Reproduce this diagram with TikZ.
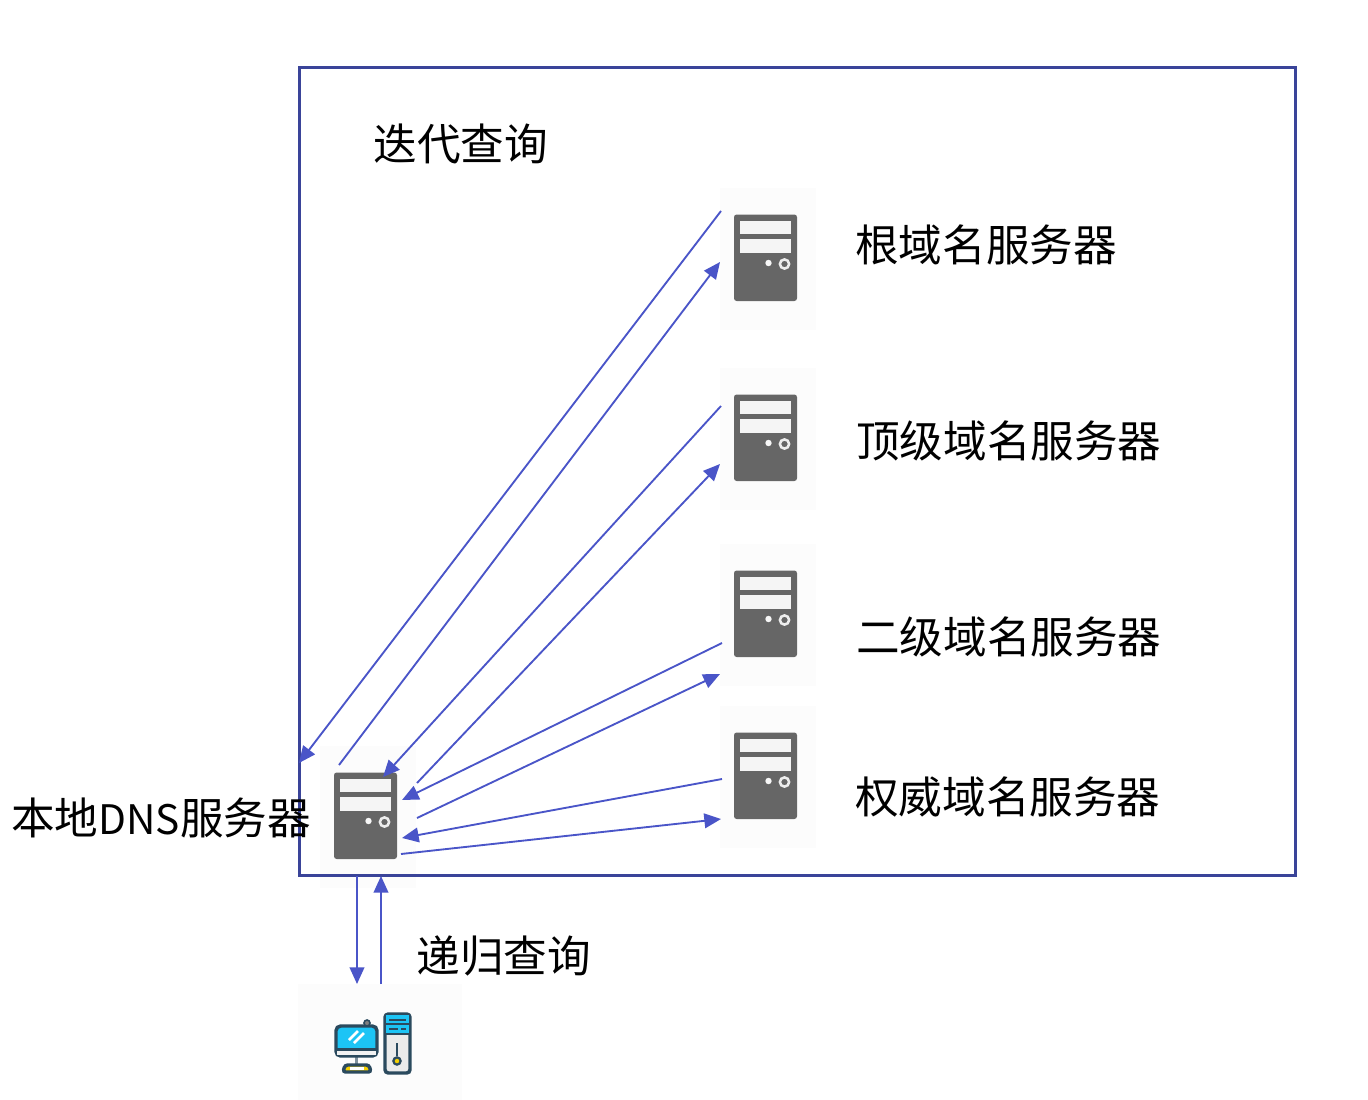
\documentclass[tikz,border=0pt]{standalone}
\usepackage{fontspec}
\newfontfamily\cjk{Noto Sans CJK SC}
\usetikzlibrary{arrows.meta}
\definecolor{lnk}{HTML}{4A55C8}
\definecolor{frm}{HTML}{3A4499}
\definecolor{srv}{HTML}{666666}
\definecolor{pane}{HTML}{FCFCFC}
\definecolor{pcd}{HTML}{2B4A5E}
\definecolor{pcb}{HTML}{1CC4F5}
\definecolor{pcy}{HTML}{F5D000}
\tikzset{
  x=0.75pt,y=-0.75pt,
  link/.style={draw=lnk,line width=1.4pt,-{Triangle[length=12.5pt,width=11pt]}},
  label/.style={anchor=west,inner sep=0pt,font=\cjk\fontsize{32.7}{33}\selectfont,text=black},
  pane/.style={fill=pane,draw=none},
}
\newcommand{\serverat}[3]{% name, left, top of pane
  \fill[pane] (#2,#3) rectangle ++(96,142);
  \coordinate (#1) at (#2,#3);
  \begin{scope}[shift={(#2,#3)}]
    \fill[srv,rounded corners=2pt] (14,26.5) rectangle (77,113);
    \fill[white!96!black] (20,33) rectangle (71,46);
    \fill[white!96!black] (20,51) rectangle (71,65);
    \fill[white!97!black] (48.5,75) circle (3.2);
    \draw[white!93!black,line width=1.9pt] (64.5,76) circle (4.6);
  \end{scope}
}
\begin{document}
\begin{tikzpicture}
\useasboundingbox (0,0) rectangle (1368,1100);
\serverat{root}{720}{188}
\serverat{tld}{720}{368}
\serverat{sld}{720}{544}
\serverat{auth}{720}{706}
\serverat{local}{320}{746}
% PC
\fill[pane] (298,984) rectangle (462,1100);
\coordinate (pc) at (298,984);
\begin{scope}[line width=2.6pt,draw=pcd]
  \fill[pcd!60!white] (355,1056) rectangle (358,1065);
  \filldraw[fill=pcy,rounded corners=2pt] (343,1072) -- (345,1065) -- (369,1065) -- (371,1072) -- cycle;
  \fill[white] (350,1067) rectangle (364,1070);
  \filldraw[fill=pcb,rounded corners=3.5pt] (336,1026) rectangle (377,1056);
  \fill[pcd] (336,1048) rectangle (377,1051);
  \fill[white!95!black] (337,1051) rectangle (376,1055);
  \draw[white,line width=1.9pt] (349,1040) -- (358,1031) (354,1043) -- (364,1033);
  \filldraw[fill=gray,line width=1.2pt] (367,1023) circle (3);
  \filldraw[fill=white!92!black,rounded corners=2.5pt] (385,1014) rectangle (410,1073);
  \fill[pcb] (386,1015) rectangle (409,1033);
  \draw[line width=1.7pt] (385,1024) -- (410,1024) (385,1034) -- (410,1034);
  \draw[line width=1.5pt] (389,1019.5) -- (406,1019.5) (389,1029) -- (398,1029) (401,1029) -- (406,1029);
  \draw[line width=1.9pt] (397,1043) -- (397,1056);
  \filldraw[fill=pcy,line width=1.7pt] (397,1061) circle (3.6);
\end{scope}
% frame
\node[draw=frm,line width=1.6pt,inner sep=0pt,minimum width=747pt,minimum height=606pt,anchor=north west] (frame) at (298.4,66.4) {};
% connector ends
\coordinate (r1) at (721,211); \coordinate (l1) at (299,763);
\coordinate (l2) at (339,765); \coordinate (r2) at (720,262);
\coordinate (t1) at (721,406); \coordinate (l3) at (383,777);
\coordinate (l4) at (417,783); \coordinate (t2) at (720,464);
\coordinate (s1) at (722,643); \coordinate (l5) at (402,800);
\coordinate (l6) at (417,818); \coordinate (s2) at (720,674);
\coordinate (a1) at (722,779); \coordinate (l7) at (402,838);
\coordinate (l8) at (401,854); \coordinate (a2) at (721,819);
\coordinate (d1) at (357,876); \coordinate (p1) at (357,984);
\coordinate (p2) at (381,984); \coordinate (d2) at (381,876);
\foreach \a/\b in {r1/l1,l2/r2,t1/l3,l4/t2,s1/l5,l6/s2,a1/l7,l8/a2,d1/p1,p2/d2}
  \draw[link] (\a) -- (\b);
% labels
\node[label] (ql) at (373.5,144) {迭代查询};
\node[label] (rl) at (855,245) {根域名服务器};
\node[label] (tl) at (856,441) {顶级域名服务器};
\node[label] (sl) at (856,637) {二级域名服务器};
\node[label] (al) at (855,797) {权威域名服务器};
\node[label] (ll) at (11,818) {本地{\fontsize{30.5}{33}\selectfont DNS}服务器};
\node[label] (dl) at (416.5,956) {递归查询};
\end{tikzpicture}
\end{document}
